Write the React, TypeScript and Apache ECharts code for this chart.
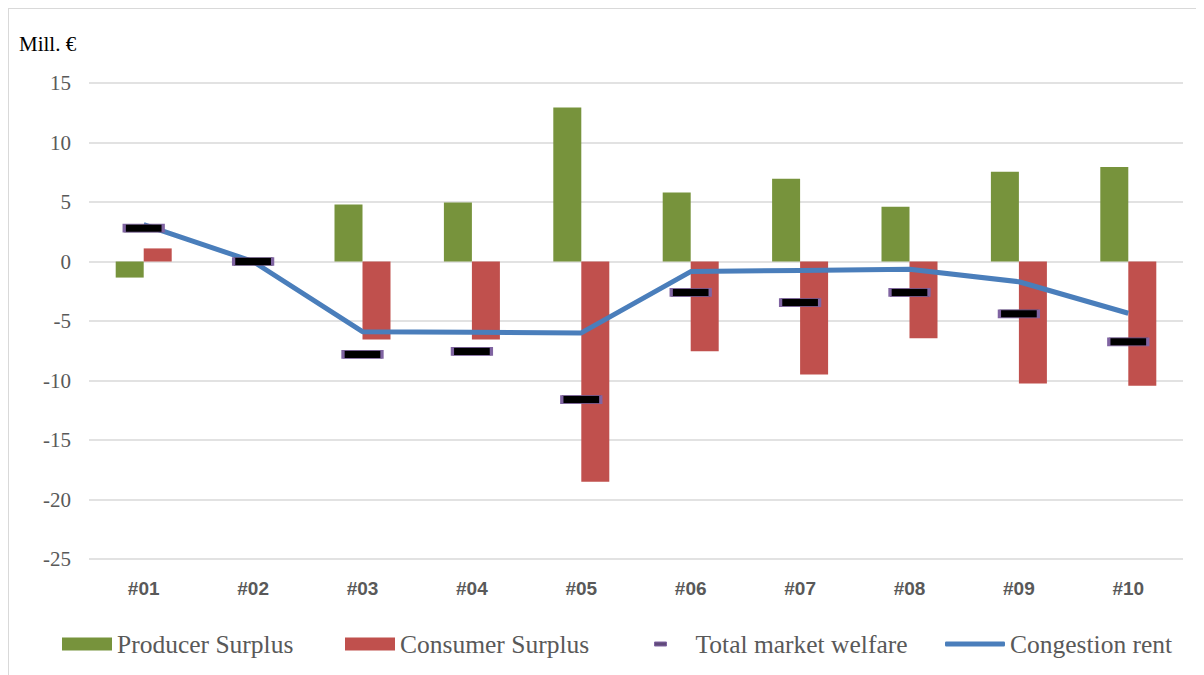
import React, { useEffect, useRef } from "react";
import * as echarts from "echarts";

const categories = ["#01", "#02", "#03", "#04", "#05", "#06", "#07", "#08", "#09", "#10"];
const producerSurplus = [-1.35, 0, 4.8, 4.95, 12.95, 5.8, 6.95, 4.6, 7.55, 7.95];
const consumerSurplus = [1.1, 0, -6.55, -6.55, -18.5, -7.55, -9.5, -6.45, -10.25, -10.45];
const totalWelfare = [2.8, 0, -7.8, -7.55, -11.6, -2.6, -3.45, -2.6, -4.4, -6.75];
const congestionRent = [3.1, 0, -5.9, -5.95, -6.0, -0.85, -0.75, -0.65, -1.7, -4.35];
const yTicks = { min: -25, max: 15, interval: 5 };

const SERIF = "'Liberation Serif', 'DejaVu Serif', serif";
const GREY = "#595959";

export default function App() {
  const ref = useRef<HTMLDivElement>(null);
  useEffect(() => {
    if (!ref.current) return;
    const chart = echarts.init(ref.current, null, { renderer: "svg" });
    const legendText = { fontFamily: SERIF, fontSize: 25.5, color: GREY };
    const legendTop = 622;
    const common = { top: legendTop, padding: 0, itemGap: 0 };
    chart.setOption({
      animation: false,
      grid: { left: 80, right: 21, top: 74, bottom: 116 },
      graphic: [
        {
          type: "text",
          left: 10,
          top: 24,
          style: { text: "Mill. €", fontFamily: SERIF, fontSize: 21, fill: "#000" },
        },
      ],
      legend: [
        {
          ...common, left: 53, itemWidth: 50, itemHeight: 13,
          textStyle: legendText,
          data: [{ name: "Producer Surplus", icon: "rect" }],
        },
        {
          ...common, left: 336, itemWidth: 50, itemHeight: 13,
          textStyle: legendText,
          data: [{ name: "Consumer Surplus", icon: "rect" }],
        },
        {
          ...common, left: 645, itemWidth: 12, itemHeight: 4,
          textStyle: { ...legendText, padding: [0, 0, 0, 24] },
          data: [
            {
              name: "Total market welfare",
              icon: "rect",
              itemStyle: { color: "#604a7b", borderColor: "#8064a2", borderWidth: 1 },
            },
          ],
        },
        {
          ...common, left: 936, itemWidth: 60, itemHeight: 5,
          textStyle: legendText,
          data: [{ name: "Congestion rent", icon: "roundRect", itemStyle: { color: "#4a7ebb" } }],
        },
      ],
      xAxis: {
        type: "category",
        data: categories,
        axisLine: { show: false, onZero: false },
        axisTick: { show: false },
        axisLabel: {
          margin: 20,
          fontFamily: "'Liberation Sans', Arial, sans-serif",
          fontWeight: "bold",
          fontSize: 19,
          color: GREY,
        },
      },
      yAxis: {
        type: "value",
        min: yTicks.min,
        max: yTicks.max,
        interval: yTicks.interval,
        axisLine: { show: false },
        axisTick: { show: false },
        splitLine: { lineStyle: { color: "#d9d9d9", width: 1.5 } },
        axisLabel: { margin: 18, fontFamily: SERIF, fontSize: 21, color: GREY },
      },
      series: [
        {
          name: "Producer Surplus",
          type: "bar",
          data: producerSurplus,
          barWidth: 28,
          barGap: "0%",
          itemStyle: { color: "#77933c" },
        },
        {
          name: "Consumer Surplus",
          type: "bar",
          data: consumerSurplus,
          barWidth: 28,
          barGap: "0%",
          itemStyle: { color: "#c0504d" },
        },
        {
          name: "Congestion rent",
          type: "line",
          data: congestionRent,
          smooth: false,
          symbol: "none",
          lineStyle: { color: "#4a7ebb", width: 5, join: "round" },
          itemStyle: { color: "#4a7ebb" },
          z: 3,
        },
        {
          name: "Total market welfare",
          type: "scatter",
          data: totalWelfare,
          symbol: "rect",
          symbolSize: [39, 8],
          itemStyle: { color: "#000", borderColor: "#8064a2", borderWidth: 1.5, opacity: 1 },
          z: 4,
        },
      ],
    });
    return () => chart.dispose();
  }, []);
  return (
    <div
      style={{
        width: 1196,
        height: 667,
        borderLeft: "1px solid #d9d9d9",
        borderTop: "1px solid #d9d9d9",
        boxSizing: "border-box",
      }}
    >
      <div ref={ref} style={{ width: 1195, height: 666 }} />
    </div>
  );
}
